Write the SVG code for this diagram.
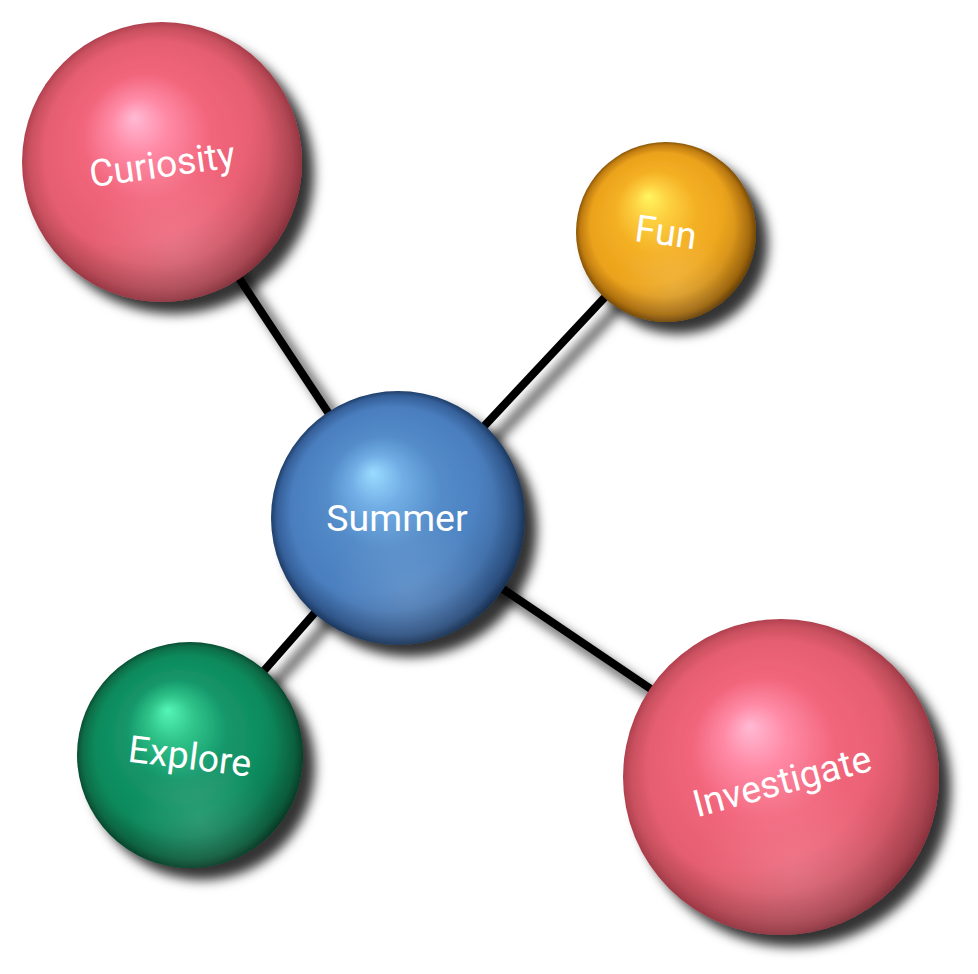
<svg xmlns="http://www.w3.org/2000/svg" width="978" height="974" viewBox="0 0 978 974">
  <defs>
    <filter id="shadow" x="-30%" y="-30%" width="170%" height="170%">
      <feGaussianBlur in="SourceAlpha" stdDeviation="6"/>
      <feOffset dx="12" dy="12" result="b"/>
      <feFlood flood-color="#000" flood-opacity="0.8"/>
      <feComposite in2="b" operator="in"/>
      <feMerge><feMergeNode/><feMergeNode in="SourceGraphic"/></feMerge>
    </filter>
    <radialGradient id="gPink" cx="0.5" cy="0.5" r="0.5" fx="0.4" fy="0.34">
      <stop offset="0" stop-color="#FFBAD4"/>
      <stop offset="0.2" stop-color="#FF8AA6"/>
      <stop offset="0.45" stop-color="#F2667C"/>
      <stop offset="0.8" stop-color="#E55E70"/>
      <stop offset="0.94" stop-color="#C8505E"/>
      <stop offset="1" stop-color="#B0404E"/>
    </radialGradient>
    <radialGradient id="gGold" cx="0.5" cy="0.5" r="0.5" fx="0.4" fy="0.3">
      <stop offset="0" stop-color="#FFF560"/>
      <stop offset="0.2" stop-color="#FDD040"/>
      <stop offset="0.45" stop-color="#F4B024"/>
      <stop offset="0.8" stop-color="#EBA21C"/>
      <stop offset="0.94" stop-color="#C07C10"/>
      <stop offset="1" stop-color="#8A5605"/>
    </radialGradient>
    <radialGradient id="gBlue" cx="0.5" cy="0.5" r="0.5" fx="0.4" fy="0.32">
      <stop offset="0" stop-color="#9ADCFF"/>
      <stop offset="0.2" stop-color="#72AEE6"/>
      <stop offset="0.45" stop-color="#538BC8"/>
      <stop offset="0.8" stop-color="#4A7EBE"/>
      <stop offset="0.94" stop-color="#35609A"/>
      <stop offset="1" stop-color="#203F6A"/>
    </radialGradient>
    <radialGradient id="gGreen" cx="0.5" cy="0.5" r="0.5" fx="0.4" fy="0.3">
      <stop offset="0" stop-color="#55F5B8"/>
      <stop offset="0.2" stop-color="#30C48A"/>
      <stop offset="0.45" stop-color="#14966A"/>
      <stop offset="0.8" stop-color="#0E8A5C"/>
      <stop offset="0.94" stop-color="#0A6E48"/>
      <stop offset="1" stop-color="#064E32"/>
    </radialGradient>
    <radialGradient id="gShade" cx="0.38" cy="0.36" r="0.72">
      <stop offset="0.6" stop-color="#000" stop-opacity="0"/>
      <stop offset="0.9" stop-color="#000" stop-opacity="0.18"/>
      <stop offset="1" stop-color="#000" stop-opacity="0.35"/>
    </radialGradient>
    <radialGradient id="gRefl" cx="0.55" cy="0.8" r="0.32">
      <stop offset="0" stop-color="#fff" stop-opacity="0.13"/>
      <stop offset="1" stop-color="#fff" stop-opacity="0"/>
    </radialGradient>
  </defs>
  <style>
    .link { stroke: #000; stroke-width: 8; fill: none; }
    .label { fill: #fff; font-family: Roboto, "Liberation Sans", sans-serif; font-size: 37.5px; text-anchor: middle; }
    .shade { fill: url(#gShade); }
    .refl { fill: url(#gRefl); }
  </style>
  <rect width="978" height="974" fill="#fff"/>
  <g id="connectors" filter="url(#shadow)">
    <line class="link" x1="162" y1="162" x2="398" y2="518"/>
    <line class="link" x1="666" y1="232" x2="398" y2="518"/>
    <line class="link" x1="190" y1="755" x2="398" y2="518"/>
    <line class="link" x1="781" y1="777" x2="398" y2="518"/>
  </g>
  <g id="curiosity">
    <circle cx="162" cy="162" r="140" fill="url(#gPink)" filter="url(#shadow)"/>
    <circle class="shade" cx="162" cy="162" r="140"/>
    <circle class="refl" cx="162" cy="162" r="140"/>
    <text class="label" transform="translate(162,164) rotate(-8)" dy="0.35em">Curiosity</text>
  </g>
  <g id="fun">
    <circle cx="666" cy="232" r="90" fill="url(#gGold)" filter="url(#shadow)"/>
    <circle class="shade" cx="666" cy="232" r="90"/>
    <circle class="refl" cx="666" cy="232" r="90"/>
    <text class="label" transform="translate(666,232) rotate(8)" dy="0.35em">Fun</text>
  </g>
  <g id="summer">
    <circle cx="398" cy="518" r="127" fill="url(#gBlue)" filter="url(#shadow)"/>
    <circle class="shade" cx="398" cy="518" r="127"/>
    <circle class="refl" cx="398" cy="518" r="127"/>
    <text class="label" x="397" y="518" dy="0.35em">Summer</text>
  </g>
  <g id="explore">
    <circle cx="190" cy="755" r="113" fill="url(#gGreen)" filter="url(#shadow)"/>
    <circle class="shade" cx="190" cy="755" r="113"/>
    <circle class="refl" cx="190" cy="755" r="113"/>
    <text class="label" transform="translate(190,756) rotate(7)" dy="0.35em">Explore</text>
  </g>
  <g id="investigate">
    <circle cx="781" cy="777" r="158" fill="url(#gPink)" filter="url(#shadow)"/>
    <circle class="shade" cx="781" cy="777" r="158"/>
    <circle class="refl" cx="781" cy="777" r="158"/>
    <text class="label" transform="translate(782,781) rotate(-15)" dy="0.35em">Investigate</text>
  </g>
</svg>
